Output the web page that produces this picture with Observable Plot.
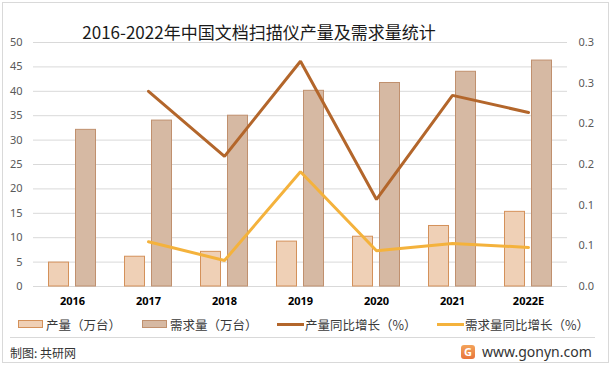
<!DOCTYPE html>
<html>
<head>
<meta charset="utf-8">
<script src="https://cdn.jsdelivr.net/npm/d3@7"></script>
<script src="https://cdn.jsdelivr.net/npm/@observablehq/plot@0.6"></script>
<style>
  html, body { margin: 0; padding: 0; background: #fff; }
  #wrap { position: relative; width: 612px; height: 370px; overflow: hidden; font-family: "Noto Sans CJK SC", "Noto Sans", sans-serif; }
  #frame { position: absolute; left: 2px; top: 2px; width: 607px; height: 361px; border: 1px solid #d9d9d9; box-sizing: border-box; }
  #title { position: absolute; left: 0; top: 20px; width: 518px; text-align: center; font-size: 17px; font-weight: 400; line-height: 24px; color: #1a1a1a; }
  .chart { position: absolute; left: 0; top: 0; }
  svg g[aria-label="x-axis tick label"] text { font-weight: bold; fill: #000; }
  .leg { position: absolute; top: 316px; height: 16px; display: flex; align-items: center; font-size: 12.5px; color: #3a3a3a; white-space: nowrap; }
  .sw { display: inline-block; box-sizing: border-box; }
  #sep { position: absolute; left: 10px; top: 337px; width: 585px; height: 1px; background: #d9d9d9; }
  #src { position: absolute; left: 10px; top: 344px; font-size: 12px; color: #333; line-height: 18px; }
  #site { position: absolute; left: 482px; top: 342px; font-size: 14px; color: #333; line-height: 20px; font-family: "Noto Sans", sans-serif; }
  #logo { position: absolute; left: 461px; top: 345px; width: 14px; height: 14px; border-radius: 3px; background: linear-gradient(#f3a35a, #e8743b); color: #fff; font: bold 11px/14px "Noto Sans", sans-serif; text-align: center; }
</style>
</head>
<body>
<div id="wrap">
  <div id="frame"></div>
  <div id="title">2016-2022年中国文档扫描仪产量及需求量统计</div>
  <div id="legend"></div>
  <div id="sep"></div>
  <div id="src">制图: 共研网</div>
  <div id="logo">G</div>
  <div id="site">www.gonyn.com</div>
</div>
<script>
const years = ["2016", "2017", "2018", "2019", "2020", "2021", "2022E"];
const production = [4.9, 6.1, 7.1, 9.2, 10.2, 12.4, 15.3];
const demand = [32.1, 34.0, 35.0, 40.1, 41.7, 44.0, 46.3];
const productionGrowth = [null, 0.240, 0.160, 0.277, 0.107, 0.235, 0.214];
const demandGrowth = [null, 0.055, 0.032, 0.141, 0.044, 0.053, 0.048];
const leftTicks = [0, 5, 10, 15, 20, 25, 30, 35, 40, 45, 50];
const rightTicks = [0, 0.05, 0.1, 0.15, 0.2, 0.25, 0.3];
const rightTickLabels = ["0.0", "0.1", "0.1", "0.2", "0.2", "0.3", "0.3"];
const seriesNames = ["产量（万台）", "需求量（万台）", "产量同比增长（%）", "需求量同比增长（%）"];

const colors = {
  prodFill: "#efd0b6", prodStroke: "#d4915a",
  demFill: "#d6b9a3", demStroke: "#c0906e",
  prodLine: "#b3662b", demLine: "#f4b23c"
};

const rows = years.map((y, i) => ({year: y, production: production[i], demand: demand[i], pg: productionGrowth[i], dg: demandGrowth[i]}));
const growthRows = rows.filter(d => d.pg != null);

const common = {
  width: 612, height: 310,
  marginLeft: 33, marginRight: 45, marginTop: 42, marginBottom: 24,
  style: {background: "transparent", fontFamily: "'Noto Sans', 'Noto Sans CJK SC', sans-serif", fontSize: "11px", color: "#595959", overflow: "visible"}
};

const bars = Plot.plot({
  ...common,
  x: {type: "band", domain: years, padding: 0, label: null, axis: null},
  y: {domain: [0, 50], label: null, axis: null},
  marks: [
    Plot.gridY(leftTicks, {stroke: "#d9d9d9", strokeOpacity: 1}),
    Plot.barY(rows, {x: "year", y: "production", fill: colors.prodFill, stroke: colors.prodStroke, strokeWidth: 1, insetLeft: 14.5, insetRight: 41.5}),
    Plot.barY(rows, {x: "year", y: "demand", fill: colors.demFill, stroke: colors.demStroke, strokeWidth: 1, insetLeft: 41.5, insetRight: 14.5}),
    Plot.axisX({tickSize: 0, tickPadding: 11, fontSize: 11, fontWeight: "bold", fill: "#000"}),
    Plot.axisY(leftTicks, {tickSize: 0, tickPadding: 11, label: null, fill: "#595959"})
  ]
});
bars.classList.add("chart");
bars.style.position = "absolute";

const lines = Plot.plot({
  ...common,
  x: {type: "point", domain: years, padding: 0.5, axis: null},
  y: {domain: [0, 0.3], axis: null},
  marks: [
    Plot.lineY(growthRows, {x: "year", y: "pg", stroke: colors.prodLine, strokeWidth: 3, strokeLinejoin: "miter"}),
    Plot.lineY(growthRows, {x: "year", y: "dg", stroke: colors.demLine, strokeWidth: 3, strokeLinejoin: "miter"}),
    Plot.axisY(rightTicks, {anchor: "right", tickSize: 0, tickPadding: 11, label: null, fill: "#595959",
      tickFormat: (d) => rightTickLabels[rightTicks.indexOf(d)]})
  ]
});
lines.classList.add("chart");
lines.style.position = "absolute";

const wrap = document.getElementById("wrap");
wrap.appendChild(bars);
wrap.appendChild(lines);

// legend
const legendItems = [
  {x: 18, name: seriesNames[0], kind: "box", fill: colors.prodFill, stroke: colors.prodStroke},
  {x: 142, name: seriesNames[1], kind: "box", fill: colors.demFill, stroke: colors.demStroke},
  {x: 277, name: seriesNames[2], kind: "line", stroke: colors.prodLine},
  {x: 437, name: seriesNames[3], kind: "line", stroke: colors.demLine}
];
const legend = document.getElementById("legend");
for (const it of legendItems) {
  const el = document.createElement("div");
  el.className = "leg";
  el.style.left = it.x + "px";
  const sw = document.createElement("span");
  sw.className = "sw";
  if (it.kind === "box") {
    sw.style.width = "25px"; sw.style.height = "8px";
    sw.style.background = it.fill; sw.style.border = "1px solid " + it.stroke;
    sw.style.marginRight = "3px";
  } else {
    sw.style.width = "27px"; sw.style.height = "3px";
    sw.style.background = it.stroke;
    sw.style.marginRight = "1px";
  }
  el.appendChild(sw);
  const t = document.createElement("span");
  t.textContent = it.name;
  el.appendChild(t);
  legend.appendChild(el);
}
</script>
</body>
</html>
